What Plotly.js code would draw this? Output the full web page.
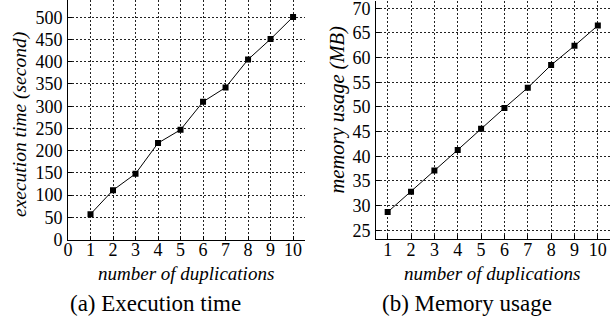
<!DOCTYPE html>
<html>
<head>
<meta charset="utf-8">
<script src="https://cdn.plot.ly/plotly-3.0.1.min.js"></script>
<style>html,body{margin:0;padding:0;background:#fff;}#chart{width:616px;height:321px;}</style>
</head>
<body>
<div id="chart"></div>
<script>
// Data
const duplications = [1, 2, 3, 4, 5, 6, 7, 8, 9, 10];
const executionTime = [57, 111, 148, 217, 247, 310, 342, 405, 451, 501];
const memoryUsage = [28.7, 32.8, 37.1, 41.3, 45.6, 49.8, 53.9, 58.5, 62.4, 66.5];
const xTitle = "number of duplications";
const yTitleA = "execution time (second)";
const yTitleB = "memory usage (MB)";
const captionA = "(a) Execution time";
const captionB = "(b) Memory usage";

const W = 616, H = 321;
const px = v => v / W;
const py = v => 1 - v / H;
const serif = "Liberation Serif";

const lineStyle = {color: "#000", width: 1};
const markerStyle = {symbol: "square", size: 6, color: "#000"};

const traces = [
  {x: duplications, y: executionTime, type: "scatter", mode: "lines+markers",
   line: lineStyle, marker: markerStyle, xaxis: "x", yaxis: "y", hoverinfo: "x+y"},
  {x: duplications, y: memoryUsage, type: "scatter", mode: "lines+markers",
   line: lineStyle, marker: markerStyle, xaxis: "x2", yaxis: "y2", hoverinfo: "x+y"}
];

const axisCommon = {
  showline: true, linecolor: "#000", linewidth: 1,
  ticks: "inside", ticklen: 4, tickcolor: "#000", tickwidth: 1,
  showgrid: true, gridcolor: "#222", gridwidth: 1, griddash: "2px,2px",
  zeroline: false, mirror: false, ticklabeloverflow: "allow",
  tickfont: {family: serif, size: 18, color: "#000"}
};

const layout = {
  width: W, height: H,
  margin: {l: 0, r: 0, t: 0, b: 0},
  paper_bgcolor: "#fff", plot_bgcolor: "#fff",
  showlegend: false,
  font: {family: serif, color: "#000"},
  xaxis: Object.assign({}, axisCommon, {
    domain: [px(68), px(305)], range: [0, 10.53], tickmode: "linear", tick0: 0, dtick: 1,
    anchor: "y", ticklabelstandoff: -6
  }),
  yaxis: Object.assign({}, axisCommon, {
    domain: [py(239.5), py(0)], range: [0, 539], tickmode: "linear", tick0: 0, dtick: 50,
    anchor: "x", ticklabelstandoff: 1
  }),
  xaxis2: Object.assign({}, axisCommon, {
    domain: [px(376), px(609.5)], range: [0.5, 10.5], tickmode: "linear", tick0: 1, dtick: 1,
    anchor: "y2", ticklabelstandoff: -6
  }),
  yaxis2: Object.assign({}, axisCommon, {
    domain: [py(239.3), py(1)], range: [23.18, 71.48], tickmode: "linear", tick0: 25, dtick: 5,
    anchor: "x2", ticklabelstandoff: 1
  }),
  annotations: [
    {text: xTitle, xref: "paper", yref: "paper", x: px(186), y: py(273), showarrow: false,
     xanchor: "center", yanchor: "middle", font: {family: serif, size: 19, color: "#000", style: "italic"}},
    {text: xTitle, xref: "paper", yref: "paper", x: px(492), y: py(273), showarrow: false,
     xanchor: "center", yanchor: "middle", font: {family: serif, size: 19, color: "#000", style: "italic"}},
    {text: yTitleA, xref: "paper", yref: "paper", x: px(20), y: py(125), showarrow: false, textangle: -90,
     xanchor: "center", yanchor: "middle", font: {family: serif, size: 19.5, color: "#000", style: "italic"}},
    {text: yTitleB, xref: "paper", yref: "paper", x: px(337), y: py(109.5), showarrow: false, textangle: -90,
     xanchor: "center", yanchor: "middle", font: {family: serif, size: 20.5, color: "#000", style: "italic"}},
    {text: captionA, xref: "paper", yref: "paper", x: px(155), y: py(303), showarrow: false,
     xanchor: "center", yanchor: "middle", font: {family: serif, size: 23, color: "#000"}},
    {text: captionB, xref: "paper", yref: "paper", x: px(467), y: py(303), showarrow: false,
     xanchor: "center", yanchor: "middle", font: {family: serif, size: 23, color: "#000"}}
  ]
};

Plotly.newPlot("chart", traces, layout, {displayModeBar: false, staticPlot: true});
</script>
</body>
</html>
